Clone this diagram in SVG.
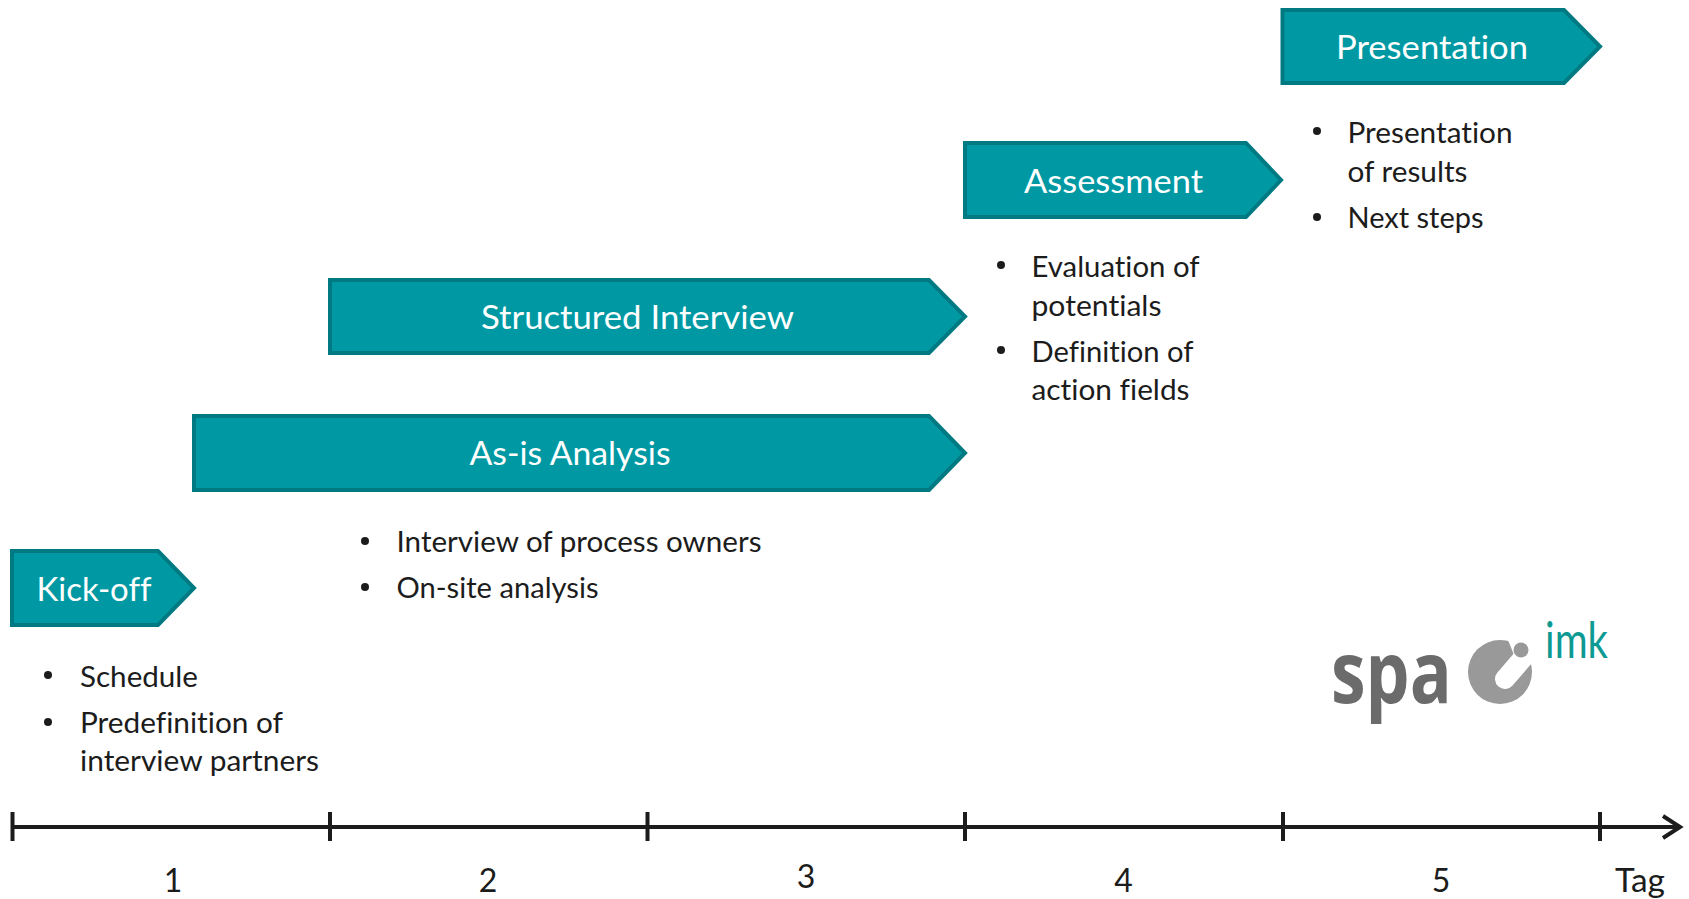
<svg xmlns="http://www.w3.org/2000/svg" width="1689" height="899" viewBox="0 0 1689 899">
<style>
text{font-family:Lato,"Open Sans","Liberation Sans",sans-serif;font-variant-ligatures:none}
.arrow{fill:#0099a3;stroke:#007a82;stroke-width:4}
.h{fill:#fff;font-size:32px;text-anchor:start}
.b{fill:#1c1c1c;font-size:28px}
.n{fill:#1c1c1c;font-size:32px;text-anchor:middle}
.dot{fill:#1c1c1c}
.axis{stroke:#1c1c1c;stroke-width:4;fill:none}
</style>
<rect width="1689" height="899" fill="#fff"/>
<g id="kickoff">
<path class="arrow" d="M12 551H158L194 588L158 625H12Z"/>
<text class="h" x="36.500" y="601" textLength="115" lengthAdjust="spacingAndGlyphs">Kick-off</text>
<circle class="dot" cx="48" cy="675" r="4"/><circle class="dot" cx="48" cy="722" r="4"/>
<text class="b" x="80" y="687" textLength="118" lengthAdjust="spacingAndGlyphs">Schedule</text>
<text class="b" x="80" y="733" textLength="203" lengthAdjust="spacingAndGlyphs">Predefinition of</text>
<text class="b" x="80" y="771" textLength="239" lengthAdjust="spacingAndGlyphs">interview partners</text>
</g>
<g id="asis">
<path class="arrow" d="M194 416H929L965 453L929 490H194Z"/>
<text class="h" x="469.500" y="465" textLength="201" lengthAdjust="spacingAndGlyphs">As-is Analysis</text>
<circle class="dot" cx="365" cy="541" r="4"/><circle class="dot" cx="365" cy="587" r="4"/>
<text class="b" x="396.500" y="552" textLength="365" lengthAdjust="spacingAndGlyphs">Interview of process owners</text>
<text class="b" x="396.500" y="598" textLength="202" lengthAdjust="spacingAndGlyphs">On-site analysis</text>
</g>
<g id="interview">
<path class="arrow" d="M330 280H929L965 316.500L929 353H330Z"/>
<text class="h" x="481" y="329" textLength="313" lengthAdjust="spacingAndGlyphs">Structured Interview</text>
</g>
<g id="assessment">
<path class="arrow" d="M965 143H1246L1281 180L1246 217H965Z"/>
<text class="h" x="1024" y="193" textLength="179" lengthAdjust="spacingAndGlyphs">Assessment</text>
<circle class="dot" cx="1001" cy="265" r="4"/><circle class="dot" cx="1001" cy="350" r="4"/>
<text class="b" x="1031.500" y="277" textLength="168" lengthAdjust="spacingAndGlyphs">Evaluation of</text>
<text class="b" x="1031.500" y="316" textLength="130" lengthAdjust="spacingAndGlyphs">potentials</text>
<text class="b" x="1031.500" y="362" textLength="162" lengthAdjust="spacingAndGlyphs">Definition of</text>
<text class="b" x="1031.500" y="400" textLength="158" lengthAdjust="spacingAndGlyphs">action fields</text>
</g>
<g id="presentation">
<path class="arrow" d="M1282.500 10H1564L1600 46.500L1564 83H1282.500Z"/>
<text class="h" x="1336" y="59" textLength="192" lengthAdjust="spacingAndGlyphs">Presentation</text>
<circle class="dot" cx="1317" cy="131" r="4"/><circle class="dot" cx="1317" cy="217" r="4"/>
<text class="b" x="1347.500" y="143" textLength="165" lengthAdjust="spacingAndGlyphs">Presentation</text>
<text class="b" x="1347.500" y="182" textLength="120" lengthAdjust="spacingAndGlyphs">of results</text>
<text class="b" x="1347.500" y="228" textLength="136" lengthAdjust="spacingAndGlyphs">Next steps</text>
</g>
<g id="axis">
<path class="axis" d="M12 827H1680M1663 816L1680 827L1663 838"/>
<path class="axis" d="M12.500 812V841M330 812V841M647.500 812V841M965 812V841M1283 812V841M1600 812V841"/>
<text class="n" x="173" y="892">1</text>
<text class="n" x="488" y="892">2</text>
<text class="n" x="806" y="888">3</text>
<text class="n" x="1123.500" y="892">4</text>
<text class="n" x="1441" y="892">5</text>
<text class="n" x="1640" y="892" textLength="50" lengthAdjust="spacingAndGlyphs">Tag</text>
</g>
<g id="logo">
<text transform="translate(1331 703) scale(0.81 1)" font-size="86" font-weight="700" fill="#6b6b6b" style="font-family:'Open Sans',sans-serif">spa</text>
<circle cx="1500" cy="672" r="32" fill="#999"/>
<path d="M1505 679L1530 650" stroke="#fff" stroke-width="20" stroke-linecap="round" fill="none"/>
<path d="M1508 640L1526 636L1546 650L1532 662L1520 670Z" fill="#fff"/>
<circle cx="1521" cy="650" r="7.500" fill="#999"/>
<text x="1545" y="658" font-size="50" fill="#0d9a93" textLength="63" lengthAdjust="spacingAndGlyphs">imk</text>
</g>
</svg>
